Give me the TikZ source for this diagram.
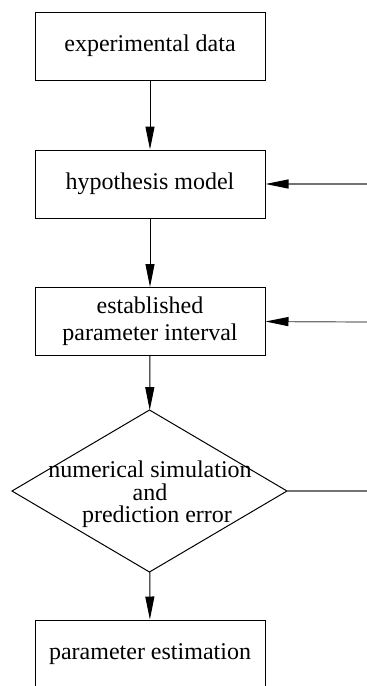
\documentclass[tikz,border=0pt]{standalone}
\usepackage{fontspec}
\setmainfont{Liberation Serif}
\usetikzlibrary{shapes.geometric,arrows.meta}
\begin{document}
\begin{tikzpicture}[x=0.5pt, y=-0.5pt,
    every node/.style={font=\fontsize{12}{13.5}\selectfont},
    stepbox/.style={rectangle, draw, line width=0.5pt, minimum width=115pt, minimum height=34pt, inner sep=0pt, align=center},
    test/.style={diamond, draw, line width=0.5pt, minimum width=137.5pt, minimum height=81pt, inner sep=0pt, outer sep=0pt},
    flow/.style={-{Triangle[length=11.5pt,width=4.5pt]}, line width=0.5pt},
    back/.style={-{Triangle[length=11.5pt,width=4.5pt,black]}, line width=0.6pt, black!55},
    loose/.style={line width=0.6pt, black!55}]
\useasboundingbox (0,0) rectangle (367,686);
\node[stepbox] (data) at (150,46) {experimental data};
\node[stepbox] (hyp) at (150,184) {hypothesis model};
\node[stepbox] (intv) at (150,321.5) {established\\parameter interval};
\node[test] (sim) at (149.5,491) {};
\node[align=center, inner sep=0pt] (simtext) at (150,494) {numerical simulation\\[-2pt]and\\[-2.5pt]\hspace{7pt}prediction error};
\node[stepbox] (est) at (150,654) {parameter estimation};
\coordinate (in1) at (367,184);
\coordinate (in2) at (367,322);
\coordinate (out) at (367,491);
\draw[flow] (data) -- (hyp);
\draw[flow] (hyp) -- (intv);
\draw[flow] (intv) -- (sim);
\draw[flow] (sim) -- (est);
\draw[back] (in1) -- (hyp.east);
\draw[back] (in2) -- (intv.east);
\draw[loose] (sim.east) -- (out);
\end{tikzpicture}
\end{document}
